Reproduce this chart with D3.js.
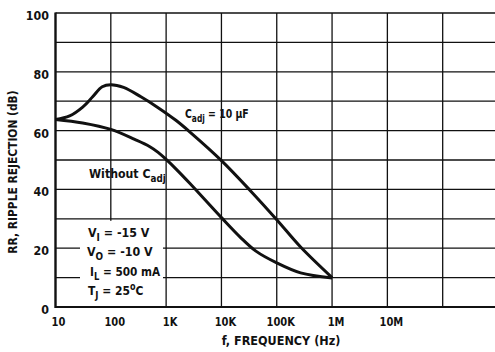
<!DOCTYPE html>
<html><head><meta charset="utf-8">
<script src="https://cdn.jsdelivr.net/npm/d3@7"></script>
<style>
html,body{margin:0;padding:0;background:#fff;}
svg{display:block;}
text{font-family:"Liberation Sans Narrow","DejaVu Sans Condensed","Roboto Condensed",sans-serif;font-weight:bold;fill:#111;}
</style></head>
<body>
<svg id="chart" width="495" height="352"></svg>
<script>
// ---- data ----
const freqTicks = [10, 100, 1e3, 1e4, 1e5, 1e6, 1e7, 1e8, 1e9];
const freqTickLabels = ["10", "100", "1K", "10K", "100K", "1M", "10M", "", ""];
const dbTicks = [0, 10, 20, 30, 40, 50, 60, 70, 80, 90, 100];
const dbTickLabels = ["0", "", "20", "", "40", "", "60", "", "80", "", "100"];

const cadjFreq = [10, 18, 31, 47, 70, 100, 170, 350, 716, 1500, 2700, 10000, 34000, 100000, 270000, 1e6];
const cadjDb   = [63.8, 65, 68, 71.5, 74.9, 75.6, 74.7, 71.5, 67.8, 63.5, 59.5, 49.8, 39.4, 29.7, 20.4, 10];

const noCadjFreq = [10, 31, 100, 270, 500, 716, 1000, 1500, 2700, 10000, 22000, 42000, 100000, 270000, 1e6];
const noCadjDb   = [63.8, 62.6, 60.4, 57.0, 54.6, 52.6, 50.2, 47.0, 42.0, 30.4, 23.7, 19.0, 15.0, 11.6, 9.9];

// ---- chart ----
const svg = d3.select("#chart");
svg.append("rect").attr("width", 495).attr("height", 352).attr("fill", "#fff");

const x = d3.scaleLog().domain([10, 1e9]).range([55.5, 498]);
const y = d3.scaleLinear().domain([0, 100]).range([307, 13]);

const grid = svg.append("g").attr("stroke", "#111").attr("stroke-width", 1.3);
grid.selectAll("line.h").data(dbTicks).join("line")
  .attr("x1", x(10)).attr("x2", 495)
  .attr("y1", d => y(d)).attr("y2", d => y(d));
grid.selectAll("line.v").data(freqTicks.slice(1, 8)).join("line")
  .attr("y1", y(100)).attr("y2", y(0))
  .attr("x1", d => x(d)).attr("x2", d => x(d));

// white area behind the conditions text
svg.append("rect").attr("x", 80).attr("y", y(30) + 2).attr("width", 83).attr("height", y(0) - y(30) - 3).attr("fill", "#fff");

// axes (left and bottom, heavier)
svg.append("line").attr("x1", x(10)).attr("x2", x(10)).attr("y1", y(100) - 0.5).attr("y2", y(0) + 1)
  .attr("stroke", "#111").attr("stroke-width", 2.4);
svg.append("line").attr("x1", x(10)).attr("x2", 495).attr("y1", y(0)).attr("y2", y(0))
  .attr("stroke", "#111").attr("stroke-width", 2);

// curves
const line = d3.line().x(d => x(d[0])).y(d => y(d[1])).curve(d3.curveCatmullRom.alpha(0.5));
svg.append("path").datum(cadjFreq.map((f, i) => [f, cadjDb[i]]))
  .attr("d", line).attr("fill", "none").attr("stroke", "#111").attr("stroke-width", 3);
svg.append("path").datum(noCadjFreq.map((f, i) => [f, noCadjDb[i]]))
  .attr("d", line).attr("fill", "none").attr("stroke", "#111").attr("stroke-width", 3);

// helper: horizontally condensed label
function label(px, py, size, sx, anchor) {
  const g = svg.append("g").attr("transform", `translate(${px},${py}) scale(${sx},1)`);
  return g.append("text").attr("font-size", size).attr("text-anchor", anchor || "start");
}

// y tick labels
dbTicks.forEach((d, i) => {
  if (dbTickLabels[i] === "") return;
  label(49, y(d) + 7, 13, 0.95, "end").text(dbTickLabels[i]);
});

// x tick labels
freqTicks.forEach((d, i) => {
  if (freqTickLabels[i] === "") return;
  label(x(d) + (i === 0 ? 3 : 4), 326, 13, 0.85, "middle").text(freqTickLabels[i]);
});

// axis titles
label(281, 345, 12.5, 1.0, "middle").text("f, FREQUENCY (Hz)");
svg.append("g").attr("transform", "translate(17,172) rotate(-90) scale(0.95,1)")
  .append("text").attr("text-anchor", "middle").attr("font-size", 12.5).text("RR, RIPPLE REJECTION (dB)");

// annotations
function sub(t, main, s, rest) {
  t.append("tspan").text(main);
  t.append("tspan").attr("dy", 4).attr("font-size", "0.8em").text(s);
  t.append("tspan").attr("dy", -4).text(rest);
}
sub(label(185, 118, 13, 0.8), "C", "adj", " = 10 \u03bcF");
sub(label(89, 178, 13, 0.94), "Without C", "adj", "");

sub(label(88, 237, 13, 0.95), "V", "I", " =  -15 V");
sub(label(87, 256, 13, 0.95), "V", "O", " = -10 V");
sub(label(90, 276, 13, 0.9), "I", "L", " = 500 mA");
const t6 = label(88, 295, 13, 0.92);
t6.append("tspan").text("T");
t6.append("tspan").attr("dy", 4).attr("font-size", "0.8em").text("J");
t6.append("tspan").attr("dy", -4).text(" = 25");
t6.append("tspan").attr("dy", -5).attr("font-size", "0.75em").text("o");
t6.append("tspan").attr("dy", 5).text("C");
</script>
</body></html>
